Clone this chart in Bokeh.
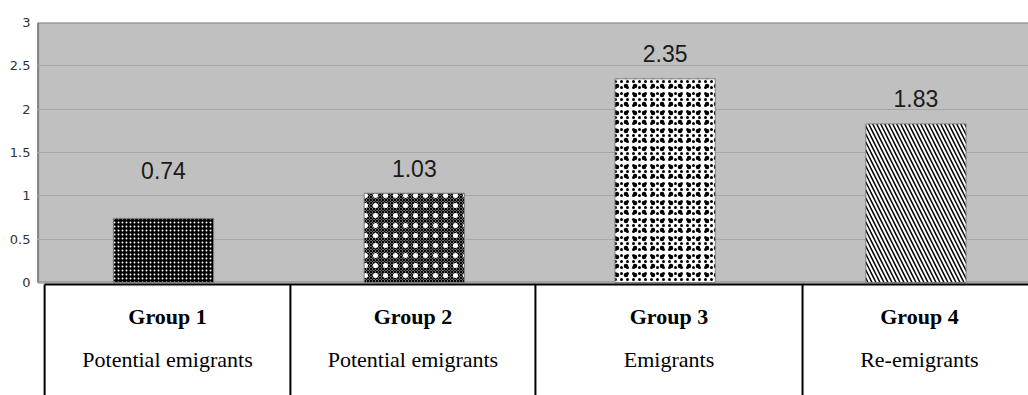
from bokeh.plotting import figure
from bokeh.models import Range1d, FixedTicker, NumeralTickFormatter
from bokeh.core.properties import value
from bokeh.embed import file_html
from bokeh.resources import INLINE

# ---------------- data ----------------
groups = ["Group 1", "Group 2", "Group 3", "Group 4"]
descriptions = ["Potential emigrants", "Potential emigrants", "Emigrants", "Re-emigrants"]
values = [0.74, 1.03, 2.35, 1.83]
value_labels = ["0.74", "1.03", "2.35", "1.83"]
y_ticks = [0, 0.5, 1, 1.5, 2, 2.5, 3]

# ---------------- layout / style ----------------
W, H = 1028, 395
BORDER_LEFT, BORDER_TOP = 36, 22
PX_PER_X = 250.8
PX_PER_Y = 86.67
x_start = -1.6 / PX_PER_X
x_end = x_start + (W - BORDER_LEFT) / PX_PER_X
y_end = 3.0
y_start = y_end - (H - BORDER_TOP) / PX_PER_Y

centers = [i + 0.5 for i in range(len(values))]
BAR_W = 0.40

# table column edges (data-x units) and row text centres (data-y units)
col_edges = [0.026, 1.006, 1.983, 3.048, 3.98]
TABLE_TOP = -0.022
ROW1_Y = -0.387
ROW2_Y = -0.883
LABEL_GAP = 0.29

# fill / hatch layers per bar (drawn on top of each other)
bar_styles = [
    [dict(fill_color="black", hatch_pattern="dot", hatch_color="white", hatch_scale=4)],
    [dict(fill_color="#9a9a9a", hatch_pattern="diagonal_cross", hatch_color="black", hatch_scale=3, hatch_weight=1.2),
     dict(fill_color=None, hatch_pattern="dot", hatch_color="white", hatch_scale=10)],
    [dict(fill_color="white", hatch_pattern="dot", hatch_color="black", hatch_scale=6),
     dict(fill_color=None, hatch_pattern="dot", hatch_color="black", hatch_scale=9)],
    [dict(fill_color="white", hatch_pattern="left_diagonal_line", hatch_color="black", hatch_scale=8, hatch_weight=1.5)],
]

p = figure(width=W, height=H, output_backend="svg", toolbar_location=None,
           x_range=Range1d(x_start, x_end), y_range=Range1d(y_start, y_end),
           min_border_left=BORDER_LEFT, min_border_top=BORDER_TOP,
           min_border_right=0, min_border_bottom=0)
p.background_fill_color = "white"
p.border_fill_color = "white"
p.outline_line_color = None
p.xaxis.visible = False
p.xgrid.visible = False

# grey plot area
bg = p.quad(left=[0], right=[x_end + 1], bottom=[0], top=[y_end],
            fill_color="#c0c0c0", line_color="#808080", line_width=2)
bg.level = "image"

p.ygrid.ticker = FixedTicker(ticks=y_ticks)
p.ygrid.grid_line_color = "#a6a6a6"
p.ygrid.grid_line_width = 1

yax = p.yaxis[0]
yax.ticker = FixedTicker(ticks=y_ticks)
yax.formatter = NumeralTickFormatter(format="0.[0]")
yax.axis_line_color = None
yax.major_tick_line_color = None
yax.minor_tick_line_color = None
yax.major_label_standoff = 0
yax.major_label_text_font = "DejaVu Sans"
yax.major_label_text_font_size = "13px"
yax.major_label_text_color = "#333333"

# bars
for x, v, layers in zip(centers, values, bar_styles):
    for i, st in enumerate(layers):
        p.vbar(x=[x], top=[v], bottom=0, width=BAR_W,
               line_color="#808080" if i == len(layers) - 1 else None, line_width=1, **st)

# value labels
lab_y = [max(v, 1.0) + LABEL_GAP for v in values]
p.text(x=centers, y=lab_y, text=value_labels, text_align="center", text_baseline="middle",
       text_font=value("Liberation Sans"), text_font_size="23px", text_color="#1a1a1a")

# table below
p.segment(x0=[col_edges[0]], y0=[TABLE_TOP], x1=[x_end + 1], y1=[TABLE_TOP],
          line_color="black", line_width=2)
p.segment(x0=col_edges[:4], y0=[TABLE_TOP] * 4, x1=col_edges[:4], y1=[y_start - 1] * 4,
          line_color="black", line_width=2)
cell_x = [(a + b) / 2 for a, b in zip(col_edges[:-1], col_edges[1:])]
p.text(x=cell_x, y=[ROW1_Y] * 4, text=groups, text_align="center", text_baseline="middle",
       text_font=value("Liberation Serif"), text_font_size="22px", text_font_style="bold",
       text_color="black")
p.text(x=cell_x, y=[ROW2_Y] * 4, text=descriptions, text_align="center", text_baseline="middle",
       text_font=value("Liberation Serif"), text_font_size="22px", text_color="black")

open("out.html", "w").write(file_html(p, INLINE))
